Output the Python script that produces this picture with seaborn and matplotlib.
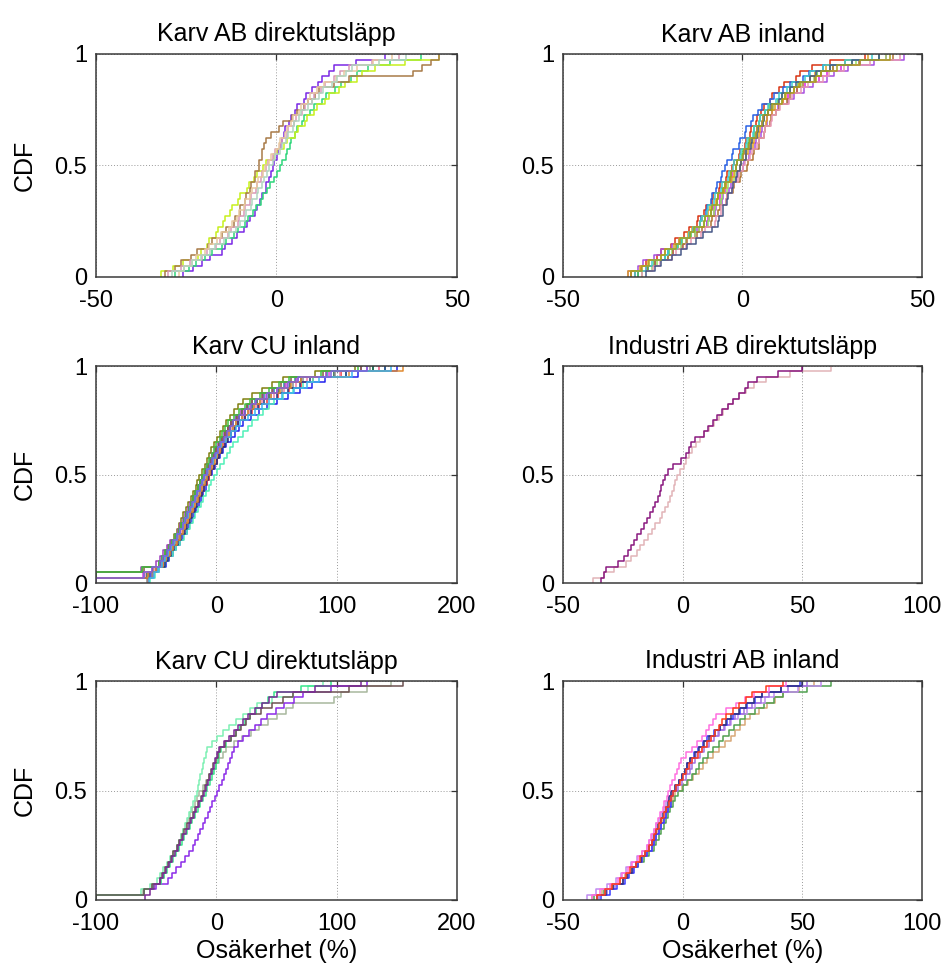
import matplotlib
matplotlib.use("Agg")
import matplotlib.pyplot as plt
import seaborn as sns

# ---------------------------------------------------------------------------
# Sorted Monte-Carlo outcomes (uncertainty in %) for each scenario and run
# ---------------------------------------------------------------------------

# Karv AB direktutsläpp
karv_ab_direkt_colors = ["#7a28e6", "#2ed67a", "#c8f01e", "#a87a48", "#d898b8", "#e8c8a0", "#b0d4c0"]
karv_ab_direkt_runs = [
    [-26.0, -23.1, -20.6, -18.3, -15.2, -14.4, -12.3, -10.9, -9.0, -8.2, -7.3, -6.0, -5.5, -4.5, -4.1, -3.0, -2.8, -2.0, -1.5, -0.9, -0.6, 0.2, 0.5, 1.2, 1.4, 2.1, 2.4, 3.6, 4.0, 5.1, 5.8, 7.5, 8.2, 9.9, 11.6, 12.6, 14.5, 15.8, 22.0, 30.0],
    [-28.0, -24.2, -22.3, -19.8, -17.9, -15.2, -14.0, -11.8, -10.7, -8.8, -8.0, -6.4, -5.7, -4.4, -3.8, -2.5, -1.9, -0.7, 0.2, 1.1, 1.4, 2.5, 2.8, 3.8, 4.1, 5.2, 5.6, 7.0, 7.7, 9.3, 10.4, 12.7, 13.8, 16.2, 17.9, 20.6, 22.2, 25.3, 31.5, 40.0],
    [-32.0, -28.6, -25.8, -21.7, -20.9, -19.2, -18.6, -16.8, -16.3, -14.7, -14.3, -13.0, -12.2, -10.6, -10.0, -8.3, -7.7, -6.1, -5.4, -3.8, -2.8, -0.7, 0.1, 2.1, 3.0, 5.2, 5.9, 7.8, 8.5, 10.3, 11.2, 13.5, 14.6, 17.3, 18.9, 22.2, 23.8, 27.3, 35.5, 45.0],
    [-31.0, -28.2, -26.5, -23.7, -21.9, -19.1, -17.8, -15.2, -13.9, -11.7, -11.5, -10.2, -10.0, -8.7, -8.5, -7.3, -7.2, -6.0, -5.9, -4.8, -4.8, -4.1, -4.0, -3.6, -2.8, -1.6, 0.6, 1.7, 4.3, 5.8, 7.7, 8.8, 10.8, 11.8, 15.9, 20.0, 37.8, 40.2, 42.8, 45.0],
    [-30.0, -26.4, -24.0, -20.7, -19.2, -16.7, -15.6, -13.5, -12.6, -10.7, -10.3, -9.0, -8.7, -7.4, -7.1, -5.8, -5.5, -4.3, -4.0, -2.8, -2.3, -0.9, -0.4, 0.9, 1.4, 2.8, 3.3, 4.8, 5.5, 7.2, 7.9, 9.7, 10.4, 12.2, 13.5, 15.9, 17.5, 20.2, 26.5, 34.0],
    [-27.0, -25.5, -23.3, -22.2, -19.8, -18.6, -16.4, -15.3, -13.2, -12.2, -10.9, -10.4, -9.1, -8.6, -7.3, -6.8, -5.5, -5.0, -3.7, -3.2, -2.0, -1.5, -0.2, 0.6, 1.1, 2.3, 2.8, 4.1, 4.6, 6.2, 6.9, 8.6, 9.4, 11.2, 13.2, 16.4, 18.7, 22.2, 26.6, 32.0],
    [-29.0, -25.7, -23.5, -20.8, -18.5, -16.9, -14.5, -13.2, -11.1, -10.2, -8.8, -8.4, -7.1, -6.7, -5.5, -5.1, -3.9, -3.6, -2.5, -2.2, -0.9, -0.4, 0.9, 1.4, 2.7, 3.1, 4.5, 4.9, 6.3, 6.8, 8.7, 9.7, 11.8, 12.8, 15.3, 16.7, 19.3, 20.8, 28.4, 36.0],
]

# Karv AB inland
karv_ab_inland_colors = ["#d83414", "#2a62e6", "#e020e0", "#a850e0", "#4cc84c", "#98e060",
                         "#e0a020", "#b07434", "#e898b4", "#40cccc", "#485888", "#a8a020"]
karv_ab_inland_runs = [
    [-31.0, -28.2, -26.8, -23.8, -22.6, -20.0, -18.7, -16.2, -14.9, -12.8, -12.3, -10.6, -10.2, -8.5, -8.2, -6.6, -6.2, -4.6, -4.2, -2.8, -2.5, -1.1, -0.8, 0.6, 0.9, 2.1, 2.3, 3.7, 3.9, 5.2, 5.9, 7.7, 8.3, 10.2, 11.6, 14.8, 15.9, 19.3, 24.5, 34.0],
    [-29.0, -26.2, -24.5, -21.7, -20.7, -18.3, -17.2, -14.8, -13.9, -11.8, -11.5, -10.2, -10.0, -8.7, -8.5, -7.3, -7.2, -6.0, -5.8, -4.8, -4.4, -2.9, -2.6, -1.1, -0.8, 0.7, 1.0, 2.5, 2.8, 4.2, 5.3, 7.7, 8.8, 11.2, 13.1, 16.8, 18.6, 22.3, 28.5, 38.0],
    [-30.0, -26.8, -24.3, -20.7, -19.4, -16.8, -15.7, -13.1, -12.0, -9.8, -9.5, -8.0, -7.8, -6.4, -6.2, -4.8, -4.6, -3.2, -3.0, -1.8, -1.4, 0.1, 0.4, 1.9, 2.2, 3.7, 4.0, 5.5, 5.8, 7.2, 8.6, 11.3, 12.6, 15.2, 17.5, 21.4, 23.5, 27.3, 32.6, 40.0],
    [-32.0, -29.1, -27.7, -24.7, -22.8, -19.5, -17.7, -14.5, -12.8, -9.8, -9.3, -7.7, -7.3, -5.7, -5.3, -3.7, -3.3, -1.7, -1.3, 0.2, 0.5, 1.9, 2.1, 3.5, 3.7, 5.1, 5.3, 6.7, 6.9, 8.2, 9.9, 12.8, 14.4, 17.2, 19.6, 23.4, 25.6, 29.3, 36.5, 45.0],
    [-29.0, -26.3, -24.6, -21.7, -20.5, -17.9, -16.8, -14.3, -13.2, -10.7, -10.4, -8.9, -8.6, -7.1, -6.8, -5.3, -5.0, -3.5, -3.2, -1.7, -1.5, -0.1, 0.1, 1.5, 1.7, 3.1, 3.3, 4.7, 4.9, 6.2, 7.4, 9.9, 10.9, 13.3, 15.4, 18.9, 20.8, 24.3, 30.6, 38.0],
    [-28.0, -25.2, -23.7, -20.7, -19.5, -17.0, -15.8, -13.3, -12.2, -9.7, -9.4, -7.9, -7.6, -6.1, -5.8, -4.3, -4.0, -2.5, -2.2, -0.7, -0.5, 0.9, 1.1, 2.5, 2.7, 4.1, 4.3, 5.7, 5.9, 7.2, 8.4, 10.9, 11.9, 14.3, 16.4, 19.9, 21.8, 25.3, 31.6, 40.0],
    [-32.0, -28.6, -26.4, -22.7, -21.6, -19.0, -17.8, -15.3, -14.2, -11.7, -11.3, -9.5, -9.1, -7.3, -6.9, -5.1, -4.7, -2.9, -2.5, -0.7, -0.4, 1.1, 1.4, 2.9, 3.2, 4.7, 5.0, 6.5, 6.8, 8.3, 9.1, 11.3, 12.1, 14.3, 15.8, 18.8, 20.3, 23.3, 28.6, 35.0],
    [-30.0, -26.6, -24.4, -20.7, -19.4, -16.7, -15.4, -12.7, -11.4, -8.7, -8.4, -6.7, -6.4, -4.7, -4.4, -2.7, -2.4, -0.7, -0.4, 1.2, 1.5, 2.9, 3.1, 4.5, 4.7, 6.1, 6.3, 7.7, 7.9, 9.2, 10.1, 12.3, 13.1, 15.3, 16.8, 20.3, 21.8, 25.3, 32.5, 42.0],
    [-28.0, -24.9, -23.1, -19.7, -18.4, -15.6, -14.3, -11.6, -10.4, -7.7, -7.5, -6.1, -5.9, -4.5, -4.3, -2.9, -2.7, -1.3, -1.1, 0.2, 0.6, 2.2, 2.6, 4.1, 4.5, 6.0, 6.4, 7.9, 8.3, 9.3, 10.4, 13.0, 13.9, 16.3, 18.3, 22.4, 24.0, 28.3, 35.6, 44.0],
    [-30.0, -27.0, -25.1, -21.7, -20.7, -18.2, -17.1, -14.8, -13.7, -11.7, -11.4, -9.8, -9.5, -7.9, -7.6, -6.0, -5.7, -4.1, -3.8, -2.7, -2.3, -0.8, -0.5, 1.0, 1.3, 2.8, 3.1, 4.6, 4.9, 6.3, 7.1, 9.4, 10.1, 12.3, 13.8, 17.4, 18.9, 22.3, 28.5, 36.0],
    [-27.0, -24.3, -22.8, -19.7, -17.2, -15.5, -12.9, -11.1, -8.6, -6.8, -6.6, -5.5, -5.3, -4.2, -4.0, -2.9, -2.7, -1.8, -1.6, -0.8, -0.5, 0.9, 1.1, 2.5, 2.7, 4.1, 4.3, 5.7, 5.9, 7.2, 8.0, 10.3, 11.0, 13.3, 14.8, 18.9, 20.4, 24.3, 30.6, 38.0],
    [-31.0, -27.9, -26.1, -22.7, -21.6, -18.6, -17.5, -14.6, -13.5, -10.7, -10.4, -8.9, -8.6, -7.1, -6.8, -5.3, -5.0, -3.5, -3.2, -1.8, -1.4, 0.1, 0.4, 1.9, 2.2, 3.7, 4.0, 5.5, 5.8, 7.2, 8.1, 10.9, 11.8, 14.3, 16.1, 20.4, 22.0, 26.3, 32.6, 41.0],
]

# Karv CU inland (runs may contain -100 %, i.e. a zero estimate)
karv_cu_inland_colors = ["#808010", "#1ca0a0", "#2222ee", "#f03434", "#50f0b8", "#a040c0", "#e040e0", "#1e6040",
                         "#806040", "#f080a8", "#8c8c8c", "#203084", "#40c040", "#e08a30", "#3cb4f0", "#8060e0"]
karv_cu_inland_runs = [
    [-100, -100, -62.0, -48.0, -45.1, -42.6, -40.3, -37.7, -35.4, -33.0, -31.2, -29.0, -27.3, -25.1, -23.4, -21.2, -19.5, -17.3, -15.8, -14.0, -12.1, -9.8, -8.0, -5.9, -4.1, -2.0, 0.6, 2.9, 5.7, 8.0, 11.2, 14.9, 18.1, 22.0, 29.5, 37.8, 46.0, 55.0, 82.0, 115.0],
    [-100, -60.0, -52.5, -46.0, -43.6, -40.8, -38.3, -35.2, -32.9, -30.0, -28.3, -26.0, -24.4, -22.1, -20.5, -18.2, -16.4, -14.4, -12.9, -11.0, -8.9, -6.6, -4.8, -2.4, -0.2, 2.0, 4.3, 7.0, 9.4, 12.0, 16.6, 21.5, 26.3, 32.0, 39.2, 48.1, 56.4, 65.0, 92.0, 130.0],
    [-100, -54.0, -47.5, -42.0, -39.3, -36.4, -33.2, -30.1, -27.3, -24.0, -22.4, -20.3, -18.7, -16.5, -14.8, -12.6, -11.1, -9.0, -7.6, -6.0, -3.8, -1.3, 0.9, 3.4, 5.7, 8.0, 11.9, 15.2, 19.1, 22.0, 28.6, 35.1, 42.4, 50.0, 59.5, 69.2, 79.8, 90.0, 118.0, 150.0],
    [-57.0, -52.4, -48.9, -44.0, -41.5, -38.2, -35.6, -32.3, -29.9, -27.0, -25.2, -22.7, -20.9, -18.4, -16.5, -14.1, -12.2, -9.9, -8.1, -6.0, -4.1, -1.6, 0.2, 2.3, 4.1, 6.0, 9.2, 12.3, 15.1, 18.0, 23.8, 29.7, 35.6, 42.0, 51.3, 60.5, 70.4, 80.0, 104.0, 135.0],
    [-55.0, -51.2, -47.3, -43.0, -40.0, -36.4, -33.3, -29.8, -26.9, -24.0, -21.9, -19.6, -17.4, -15.2, -13.1, -10.7, -8.7, -6.4, -4.3, -2.0, 0.6, 3.4, 6.1, 8.6, 11.4, 14.0, 18.4, 22.1, 26.3, 30.0, 34.6, 38.9, 43.5, 48.0, 55.6, 63.4, 71.7, 80.0, 108.0, 140.0],
    [-100, -100, -63.0, -50.0, -46.8, -44.2, -40.7, -38.1, -34.6, -32.0, -30.2, -27.9, -26.1, -23.8, -21.9, -19.7, -17.8, -15.6, -13.9, -12.0, -9.7, -7.6, -5.3, -3.3, -0.9, 1.0, 3.9, 6.4, 9.3, 12.0, 16.4, 20.8, 25.5, 30.0, 38.6, 47.2, 56.9, 66.0, 91.0, 120.0],
    [-100, -61.0, -53.6, -47.0, -44.6, -41.5, -39.1, -36.0, -33.6, -31.0, -29.0, -26.9, -24.8, -22.8, -20.9, -18.8, -16.8, -14.9, -12.9, -11.0, -8.8, -6.2, -3.9, -1.6, 0.9, 3.0, 5.8, 8.3, 10.7, 13.0, 17.6, 22.9, 27.6, 33.0, 41.3, 50.2, 58.7, 68.0, 94.0, 125.0],
    [-100, -58.0, -52.3, -46.0, -43.5, -40.6, -38.1, -35.2, -32.6, -30.0, -28.1, -25.9, -24.0, -21.8, -19.9, -17.8, -15.9, -13.8, -12.0, -10.0, -7.7, -5.5, -3.2, -1.1, 1.1, 3.0, 6.0, 8.5, 11.4, 14.0, 19.2, 24.1, 29.3, 34.0, 43.4, 52.1, 61.6, 70.0, 98.0, 130.0],
    [-100, -100, -60.0, -47.0, -44.6, -41.7, -39.3, -36.2, -33.7, -31.0, -29.2, -27.0, -25.2, -23.0, -21.3, -19.1, -17.4, -15.2, -13.6, -12.0, -9.5, -7.2, -4.6, -2.3, 0.1, 2.0, 4.8, 7.1, 9.8, 12.0, 16.8, 21.2, 25.9, 30.0, 37.9, 46.2, 53.8, 62.0, 89.0, 120.0],
    [-100, -59.0, -51.6, -45.0, -42.6, -39.7, -37.2, -34.3, -31.8, -29.0, -26.8, -24.7, -22.4, -20.4, -18.1, -16.1, -13.8, -11.9, -9.7, -8.0, -5.8, -3.7, -1.8, 0.2, 2.1, 4.0, 7.3, 10.1, 13.3, 16.0, 21.8, 27.1, 32.9, 38.0, 47.6, 56.3, 66.0, 75.0, 103.0, 135.0],
    [-58.0, -53.2, -49.5, -45.0, -42.4, -39.3, -36.8, -33.6, -31.1, -28.0, -26.2, -24.1, -22.3, -20.2, -18.4, -16.3, -14.5, -12.5, -10.8, -9.0, -6.5, -4.3, -1.9, 0.4, 2.6, 5.0, 7.9, 10.6, 13.5, 16.0, 21.4, 26.2, 31.4, 36.0, 45.6, 54.2, 63.5, 72.0, 99.0, 128.0],
    [-100, -56.0, -49.8, -43.0, -40.5, -37.4, -34.9, -31.7, -29.2, -26.0, -24.2, -22.0, -20.2, -18.1, -16.3, -14.1, -12.3, -10.3, -8.6, -7.0, -4.5, -2.0, 0.3, 2.6, 5.0, 7.0, 10.1, 12.6, 15.5, 18.0, 23.9, 29.1, 34.8, 40.0, 50.1, 59.2, 69.3, 78.0, 108.0, 140.0],
    [-100, -100, -62.0, -48.0, -45.3, -42.4, -39.6, -36.7, -34.0, -31.0, -29.2, -27.0, -25.3, -23.1, -21.4, -19.2, -17.5, -15.3, -13.7, -12.0, -9.9, -7.8, -5.9, -3.8, -2.1, 0.0, 2.8, 4.9, 7.6, 10.0, 14.8, 18.9, 23.6, 28.0, 36.6, 43.9, 52.3, 60.0, 87.0, 118.0],
    [-100, -57.0, -50.3, -44.0, -41.6, -38.6, -36.1, -33.1, -30.6, -28.0, -25.8, -23.8, -21.6, -19.7, -17.5, -15.6, -13.5, -11.7, -9.6, -8.0, -5.6, -3.5, -1.3, 0.8, 2.9, 5.0, 8.0, 10.6, 13.5, 16.0, 21.6, 26.1, 31.5, 36.0, 45.2, 52.9, 62.1, 70.0, 110.0, 155.0],
    [-56.0, -52.1, -48.8, -45.0, -42.6, -39.9, -37.6, -34.8, -32.5, -30.0, -27.9, -25.9, -23.8, -21.9, -19.8, -17.9, -15.8, -13.9, -11.8, -10.0, -7.5, -5.3, -2.9, -0.6, 1.6, 4.0, 8.2, 11.9, 16.1, 20.0, 26.3, 31.8, 38.1, 44.0, 54.6, 64.3, 75.1, 85.0, 113.0, 145.0],
    [-100, -60.0, -53.1, -47.0, -44.3, -41.4, -38.7, -35.6, -33.0, -30.0, -28.1, -25.9, -24.0, -21.8, -19.9, -17.8, -15.9, -13.8, -12.0, -10.0, -7.7, -5.6, -3.3, -1.3, 1.0, 3.0, 6.1, 8.6, 11.5, 14.0, 19.1, 23.6, 28.7, 33.0, 42.2, 50.4, 59.8, 68.0, 95.0, 125.0],
]

# Industri AB direktutsläpp
industri_ab_direkt_colors = ["#e2b4b8", "#8a1a80"]
industri_ab_direkt_runs = [
    [-37.5, -33.0, -28.5, -23.5, -21.5, -19.0, -17.8, -16.3, -14.5, -13.0, -11.5, -9.5, -8.5, -7.3, -6.2, -5.2, -4.5, -3.8, -3.0, -2.3, -1.0, 0.4, 1.2, 2.5, 4.0, 5.5, 7.2, 9.0, 11.0, 13.0, 15.0, 17.0, 19.0, 21.0, 23.5, 26.5, 30.0, 35.0, 45.0, 62.0],
    [-34.0, -33.0, -32.0, -27.0, -24.5, -23.0, -21.5, -20.5, -19.0, -17.5, -16.0, -15.0, -13.5, -12.5, -11.5, -10.5, -9.5, -9.0, -8.2, -7.5, -6.0, -4.0, -0.5, 1.5, 2.5, 3.5, 5.0, 9.0, 10.5, 12.5, 14.5, 16.5, 19.0, 21.0, 23.5, 26.0, 27.5, 31.0, 40.0, 50.0],
]

# Karv CU direktutsläpp
karv_cu_direkt_colors = ["#a8b89e", "#8b2be8", "#7ef0b4", "#38e68c", "#6e5252", "#7a2a96"]
karv_cu_direkt_runs = [
    [-100, -61.0, -53.2, -46.0, -43.9, -41.7, -39.5, -37.4, -35.1, -33.0, -31.2, -29.3, -27.6, -25.5, -23.8, -21.7, -19.9, -17.9, -16.1, -14.0, -11.3, -8.6, -5.8, -3.0, -0.3, 2.5, 5.2, 8.0, 14.9, 21.7, 28.8, 35.6, 42.9, 50.0, 58.0, 64.0, 98.0, 104.0, 125.0, 145.0],
    [-100, -60.0, -50.0, -40.0, -36.8, -33.5, -29.2, -26.4, -22.6, -19.5, -17.4, -15.5, -13.2, -11.4, -9.1, -7.3, -5.2, -3.4, -1.4, 0.4, 2.1, 4.3, 6.0, 7.9, 9.6, 11.4, 12.8, 14.5, 18.0, 22.5, 27.1, 31.8, 36.9, 42.0, 49.6, 56.3, 64.8, 72.0, 95.0, 125.0],
    [-100, -63.0, -55.0, -49.0, -46.5, -44.0, -41.2, -38.9, -35.8, -33.0, -31.4, -29.5, -27.8, -26.0, -24.3, -22.5, -20.9, -19.2, -17.7, -16.3, -15.3, -14.1, -13.2, -12.0, -11.0, -9.9, -9.0, -8.0, -4.0, 0.5, 5.6, 10.9, 16.3, 22.0, 28.0, 34.0, 46.0, 64.0, 76.0, 89.0],
    [-100, -60.0, -52.6, -46.0, -43.7, -41.1, -38.6, -36.1, -33.4, -31.0, -28.9, -26.6, -24.4, -22.1, -19.9, -17.6, -15.4, -13.2, -11.1, -9.0, -7.4, -5.6, -3.9, -2.3, -0.6, 1.0, 2.6, 4.0, 7.8, 11.9, 16.2, 19.9, 24.1, 28.0, 32.9, 37.8, 43.2, 48.0, 70.0, 95.0],
    [-100, -60.0, -53.3, -47.0, -44.9, -42.5, -40.3, -37.8, -35.6, -33.0, -31.0, -28.6, -26.5, -24.2, -22.1, -19.7, -17.6, -15.4, -13.1, -11.0, -9.4, -7.5, -5.9, -4.1, -2.4, -0.5, 1.2, 3.0, 7.6, 11.8, 16.5, 20.6, 24.4, 28.0, 37.3, 45.9, 55.2, 64.0, 110.0, 155.0],
    [-59.0, -55.2, -51.4, -47.0, -44.6, -42.2, -39.4, -37.1, -34.3, -32.0, -29.8, -27.5, -25.4, -23.0, -20.9, -18.6, -16.5, -14.2, -12.1, -10.0, -8.4, -6.8, -5.3, -3.7, -2.2, -0.7, 0.6, 2.0, 6.5, 10.3, 14.6, 18.1, 22.4, 26.0, 31.8, 37.9, 43.6, 50.0, 82.0, 120.0],
]

# Industri AB inland
industri_ab_inland_colors = ["#d8a878", "#50a050", "#c08cf0", "#a070e0", "#3a3cff", "#32327c", "#ff70e0", "#ff3c1e"]
industri_ab_inland_runs = [
    [-38.0, -33.6, -30.1, -26.0, -24.0, -21.7, -19.6, -17.3, -15.3, -13.0, -12.1, -11.0, -10.1, -9.0, -8.1, -7.0, -6.1, -5.0, -4.1, -3.0, -0.4, 2.2, 4.5, 7.0, 8.5, 10.0, 12.6, 15.0, 17.6, 20.0, 21.9, 24.1, 25.9, 28.0, 31.7, 35.2, 38.6, 42.0, 48.5, 55.0],
    [-37.0, -32.8, -29.3, -25.0, -22.9, -20.6, -18.5, -16.2, -14.2, -12.0, -11.1, -10.0, -9.1, -8.0, -7.1, -6.0, -5.1, -4.0, -3.1, -2.0, 0.0, 1.8, 3.8, 5.5, 7.0, 8.5, 10.7, 12.8, 15.0, 17.0, 19.3, 21.5, 23.8, 26.0, 30.1, 33.9, 38.2, 42.0, 52.0, 62.0],
    [-40.0, -36.3, -31.8, -28.0, -25.9, -23.5, -21.4, -19.0, -17.1, -15.0, -14.0, -13.0, -11.9, -11.0, -9.9, -9.0, -7.9, -7.0, -5.9, -5.0, -3.2, -1.4, 0.3, 2.0, 3.0, 4.0, 6.1, 8.0, 10.1, 12.0, 14.8, 17.5, 20.3, 23.0, 26.9, 30.4, 34.3, 38.0, 48.0, 58.0],
    [-35.0, -31.7, -28.2, -25.0, -23.1, -20.9, -19.1, -16.9, -15.1, -13.0, -12.0, -11.1, -10.0, -9.1, -8.0, -7.1, -6.0, -5.1, -4.9, -4.0, -2.1, -0.3, 1.4, 3.0, 4.0, 5.0, 7.1, 9.0, 11.1, 13.0, 15.1, 17.4, 19.6, 22.0, 25.6, 29.0, 32.6, 36.0, 44.0, 52.0],
    [-34.0, -30.4, -27.3, -24.0, -22.3, -20.4, -18.7, -16.8, -15.0, -13.0, -12.0, -11.0, -9.9, -9.0, -7.9, -7.0, -6.0, -5.0, -4.9, -4.0, -2.8, -1.5, -0.2, 1.0, 2.0, 3.0, 4.8, 6.6, 8.3, 10.0, 12.9, 15.6, 18.4, 21.0, 24.1, 27.0, 30.1, 33.0, 41.0, 49.0],
    [-36.0, -32.2, -28.9, -25.0, -23.3, -21.2, -19.4, -17.4, -15.8, -14.0, -13.0, -12.1, -11.0, -10.1, -9.0, -8.1, -7.0, -6.1, -5.9, -5.0, -3.4, -1.6, -0.1, 1.0, 2.0, 3.0, 5.1, 6.9, 9.1, 11.0, 13.4, 15.5, 17.9, 20.0, 23.4, 26.5, 29.9, 33.0, 41.0, 50.0],
    [-38.0, -34.5, -30.2, -27.0, -25.2, -22.9, -21.1, -18.8, -17.0, -15.0, -14.1, -13.2, -12.1, -11.2, -10.1, -9.3, -8.3, -7.6, -6.6, -6.0, -5.1, -4.3, -3.3, -2.5, -1.5, -0.5, 1.6, 3.9, 5.8, 8.0, 9.6, 11.1, 12.6, 14.0, 18.2, 22.1, 26.2, 30.0, 36.0, 43.0],
    [-36.0, -32.3, -29.4, -26.0, -23.8, -21.9, -19.7, -17.8, -15.9, -14.0, -13.0, -11.9, -11.0, -9.9, -9.0, -7.9, -7.0, -5.9, -5.0, -4.0, -2.6, -1.2, 0.1, 1.5, 2.8, 4.0, 6.2, 8.1, 10.2, 12.0, 13.4, 15.0, 16.5, 18.0, 20.9, 23.6, 26.4, 29.0, 35.0, 42.0],
]

titles = ["Karv AB direktutsläpp", "Karv AB inland", "Karv CU inland",
          "Industri AB direktutsläpp", "Karv CU direktutsläpp", "Industri AB inland"]
x_ranges = [(-50, 50), (-50, 50), (-100, 200), (-50, 100), (-100, 200), (-50, 100)]
x_ticks = [[-50, 0, 50], [-50, 0, 50], [-100, 0, 100, 200],
           [-50, 0, 50, 100], [-100, 0, 100, 200], [-50, 0, 50, 100]]
y_ticks = [0, 0.5, 1]
y_ticklabels = ["0", "0.5", "1"]
ylabel_text = "CDF"
xlabel_text = "Osäkerhet (%)"

# ---------------------------------------------------------------------------
sns.set_theme(style="white")
plt.rcParams["font.family"] = ["Liberation Sans", "DejaVu Sans"]
plt.rcParams["axes.unicode_minus"] = False

fig = plt.figure(figsize=(9.45, 9.67), dpi=100)
W, H = 945.0, 967.0

# axes boxes in pixels: (left, top, width, height)
boxes = [(96, 54, 361, 223), (563, 54, 359, 223),
         (96, 366, 361, 217), (563, 366, 359, 217),
         (96, 681, 361, 219), (563, 681, 359, 219)]

panel_runs = [karv_ab_direkt_runs, karv_ab_inland_runs, karv_cu_inland_runs,
              industri_ab_direkt_runs, karv_cu_direkt_runs, industri_ab_inland_runs]
panel_colors = [karv_ab_direkt_colors, karv_ab_inland_colors, karv_cu_inland_colors,
                industri_ab_direkt_colors, karv_cu_direkt_colors, industri_ab_inland_colors]

for i, (l, t, w, h) in enumerate(boxes):
    ax = fig.add_axes([l / W, 1 - (t + h) / H, w / W, h / H])
    for run, col in zip(panel_runs[i], panel_colors[i]):
        sns.ecdfplot(x=run, ax=ax, color=col, linewidth=1.1)

    ax.set_xlim(*x_ranges[i])
    ax.set_ylim(0, 1)
    ax.set_xticks(x_ticks[i])
    ax.set_xticklabels([str(v) for v in x_ticks[i]])
    ax.set_yticks(y_ticks)
    ax.set_yticklabels(y_ticklabels)
    ax.tick_params(direction="in", top=True, right=True, length=4, width=0.9,
                   color="#333333", labelcolor="black", labelsize=17)
    ax.tick_params(axis="x", pad=9.5)
    ax.tick_params(axis="y", pad=6.5)
    ax.set_axisbelow(True)
    ax.grid(True, linestyle=(0, (1, 2)), color="#9a9a9a", linewidth=0.7)
    for s in ax.spines.values():
        s.set_visible(True)
        s.set_color("#3a3a3a")
        s.set_linewidth(1.1)
    ax.set_title(titles[i], fontsize=18, pad=9, color="black")

    if i % 2 == 0:
        ax.set_ylabel(ylabel_text, fontsize=18, color="black")
        ax.yaxis.set_label_coords(-0.165, 0.5)
    else:
        ax.set_ylabel("")
    if i >= 4:
        ax.set_xlabel(xlabel_text, fontsize=18, color="black")
        ax.xaxis.set_label_coords(0.5, -0.18)
    else:
        ax.set_xlabel("")

fig.savefig("out.png", dpi=100, facecolor="white")
